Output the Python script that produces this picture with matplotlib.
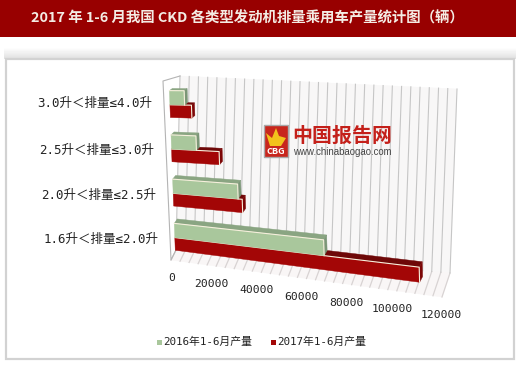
import numpy as np
import matplotlib
matplotlib.use("Agg")
import matplotlib.pyplot as plt
from matplotlib.patches import Polygon, Rectangle

plt.rcParams['font.family'] = ['Noto Sans CJK SC', 'DejaVu Sans']
MONO = ['DejaVu Sans Mono', 'Noto Sans CJK SC']

title = "2017 年 1-6 月我国 CKD 各类型发动机排量乘用车产量统计图（辆）"
categories = ["1.6升＜排量≤2.0升", "2.0升＜排量≤2.5升", "2.5升＜排量≤3.0升", "3.0升＜排量≤4.0升"]
y2016 = [66000, 28700, 11000, 6500]
y2017 = [108000, 30500, 21000, 9500]
series_names = ["2016年1-6月产量", "2017年1-6月产量"]
ticks = [0, 20000, 40000, 60000, 80000, 100000, 120000]
vmax = 120000

# picture pixels of the box corners: [depth][height][left/right]
box = np.array([
    [[[171, 260], [442, 297]], [[163, 81], [438, 100]]],
    [[[176, 250], [450, 273]], [[180, 76], [457, 89]]],
], dtype=float)
# same thing for the slab the bars sit in, front plane then back plane
slab = np.array([
    [[[175.5, 257], [447, 294]], [[169, 80], [441, 80]]],
    [[[178.5, 252], [450, 288]], [[172, 78], [444, 78]]],
], dtype=float)


def proj(v, d, h, corners=box):
    u = v / vmax
    out = 0
    for i, wd in enumerate([1 - d, d]):
        for j, wh in enumerate([1 - h, h]):
            for k, wu in enumerate([1 - u, u]):
                out = out + wd * wh * wu * corners[i, j, k]
    return out


def face(ax, pts, color, z=3):
    ax.add_patch(Polygon(pts, closed=True, fc=color, ec=color, lw=0.3, zorder=z))


def bar(ax, v, h0, h1, front, top, side, z):
    p = lambda val, d, h: proj(val, d, h, slab)
    face(ax, [p(0, 0, h1), p(v, 0, h1), p(v, 1, h1), p(0, 1, h1)], top, z)
    face(ax, [p(v, 0, h0), p(v, 1, h0), p(v, 1, h1), p(v, 0, h1)], side, z)
    face(ax, [p(0, 0, h0), p(v, 0, h0), p(v, 0, h1), p(0, 0, h1)], front, z)
    a, b, c = p(0, 0, h1), p(v, 0, h1), p(v, 0, h0)
    ax.plot([a[0], b[0], c[0]], [a[1], b[1], c[1]], color="#f6efdc", lw=0.8, zorder=z)


fig = plt.figure(figsize=(5.2, 3.67), dpi=100)
ax = fig.add_axes([0, 0, 1, 1])

# banner and panel
ax.add_patch(Rectangle((0, 0), 516, 36.5, fc="#980000", ec="none"))
shade = np.linspace(1, 0.88, 12).reshape(-1, 1)
ax.imshow(shade, extent=(4, 516, 59, 47), cmap="gray", vmin=0, vmax=1, aspect="auto", zorder=1)
ax.set_xlim(0, 520)
ax.set_ylim(367, 0)
ax.axis("off")
ax.add_patch(Rectangle((6, 59), 508, 300, fc="white", ec="#d2d2d2", lw=1.6, zorder=1.5))
ax.text(247, 18.5, title, color="#f4ece4", fontsize=10.4, fontweight="bold", ha="center", va="center")

# walls and floor
face(ax, [proj(0, 1, 0), proj(vmax, 1, 0), proj(vmax, 1, 1), proj(0, 1, 1)], "#f8f7f7", 2)
face(ax, [proj(0, 0, 0), proj(vmax, 0, 0), proj(vmax, 1, 0), proj(0, 1, 0)], "#f9f6f6", 2)
for v in np.arange(0, vmax + 1, 4000):
    a, b, c = proj(v, 0, 0), proj(v, 1, 0), proj(v, 1, 1)
    ax.plot([a[0], b[0]], [a[1], b[1]], color="#d8d3d3", lw=0.9, zorder=2.2)
    ax.plot([b[0], c[0]], [b[1], c[1]], color="#c6c6c6", lw=0.8, zorder=2.2)
wall = [proj(0, 1, 1), proj(0, 0, 1), proj(0, 0, 0), proj(0, 1, 0)]
ax.plot([p[0] for p in wall], [p[1] for p in wall], color="#b4b4b4", lw=0.8, zorder=2.3)

# bars, upper categories are drawn first
n = len(categories)
for i in range(n - 1, -1, -1):
    c = (i + 0.44) / n
    z = 3 + (n - i)
    bar(ax, y2017[i], c - 0.072, c, "#a30606", "#6e0808", "#7c0606", z)
    bar(ax, y2016[i], c, c + 0.08, "#a9c79c", "#8aa582", "#7b9677", z + 0.5)

# category labels
label_pos = [(101, 239), (98.5, 195), (97, 150), (95, 103)]
for name, (x, y) in zip(categories, label_pos):
    ax.text(x, y, name, family=MONO, fontsize=9, color="#222222", ha="center", va="center")

# value labels under the front edge of the floor
for t in ticks:
    p = proj(t, 0, 0)
    dx = 1 if t == 0 else (-1 if t == vmax else -5)
    ax.text(p[0] + dx, p[1] + 18, str(t), family=MONO, fontsize=8.2, color="#222222", ha="center", va="center")

# logo
ax.add_patch(Rectangle((263.5, 124.5), 24.5, 32, fc="#c8261d", ec="#a9a9a9", lw=1, zorder=8))
ax.add_patch(Polygon([(266, 133), (272, 138), (276, 128), (279, 136), (286, 138), (281, 146), (270, 146)],
                     closed=True, fc="#f2c21c", ec="none", zorder=9))
ax.text(275.8, 151, "CBG", color="white", fontsize=6.5, fontweight="bold", ha="center", va="center", zorder=9)
ax.text(342, 135, "中国报告网", color="#c4201a", fontsize=14.4, fontweight="bold", ha="center", va="center", zorder=9)
ax.text(342.5, 152, "www.chinabaogao.com", color="#444444", fontsize=6.9, ha="center", va="center",
        family=['Liberation Sans'], zorder=9)

# legend
for x, color, name in zip([157, 271], ["#a9c79c", "#a30606"], series_names):
    ax.add_patch(Rectangle((x, 339.5), 5, 5, fc=color, ec="none", zorder=8))
    ax.text(x + 6.5, 342, name, family=MONO, fontsize=7.8, color="#222222", ha="left", va="center", zorder=8)

fig.savefig("out.png", dpi=100)
